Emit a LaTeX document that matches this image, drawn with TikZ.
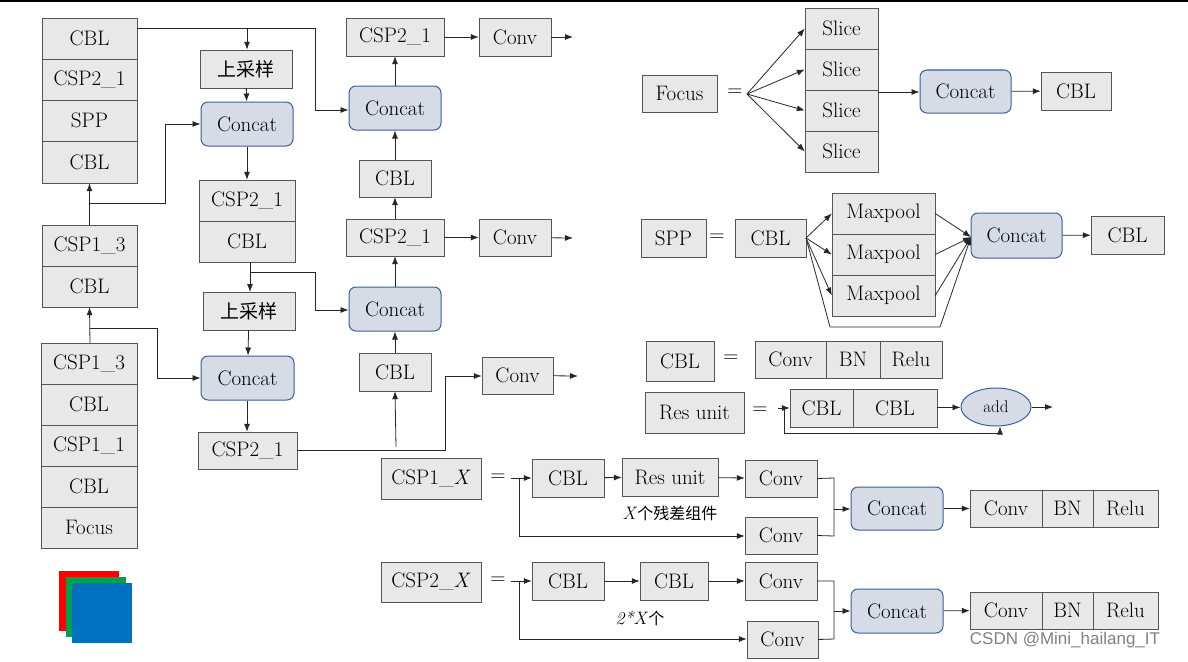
\documentclass[tikz,border=0pt]{standalone}
\usepackage{fontspec}
\newfontfamily\tms{Latin Modern Roman}
\newfontfamily\cjk{Noto Sans CJK SC}
\usetikzlibrary{arrows.meta,shapes.geometric}
\definecolor{bxf}{HTML}{E8E8E8}
\definecolor{bxd}{HTML}{555555}
\definecolor{ccf}{HTML}{D6DCE5}
\definecolor{ccd}{HTML}{3A5F9E}
\definecolor{sqb}{HTML}{0070C0}
\definecolor{sqg}{HTML}{00A050}
\tikzset{
 box/.style={draw=bxd,fill=bxf,inner sep=0pt,font=\tms\fontsize{21}{23}\selectfont},
 cc/.style={box,draw=ccd,fill=ccf,rounded corners=7pt,line width=1pt},
 ln/.style={draw=black!85,line width=0.8pt},
 ar/.style={ln,-{Latex[length=8pt,width=6pt]}},
 eq/.style={font=\tms\fontsize{21}{23}\selectfont}
}
\newcommand\bx[7][box]{\node[#1,minimum width={(#5-#3)*1pt},minimum height={(#6-#4)*1pt}] (#2) at ({(#3+#5)/2},{(#4+#6)/2}) {#7};}
\begin{document}
\begin{tikzpicture}[x=1pt,y=-1pt]
\useasboundingbox (0,0) rectangle (1188,661);
\draw[line width=1.2pt] (0,1) -- (1188,1);
% left stacks
\bx{a1}{42}{18}{137}{59}{CBL}
\bx{a2}{42}{59}{137}{100}{CSP2\_1}
\bx{a3}{42}{100}{137}{141}{SPP}
\bx{a4}{42}{141}{137}{183}{CBL}
\bx{b1}{42}{225}{137}{266}{CSP1\_3}
\bx{b2}{42}{266}{137}{307}{CBL}
\bx{c1}{41}{343}{137}{384}{CSP1\_3}
\bx{c2}{41}{384}{137}{425}{CBL}
\bx{c3}{41}{425}{137}{466}{CSP1\_1}
\bx{c4}{41}{466}{137}{507}{CBL}
\bx{c5}{41}{507}{137}{548}{Focus}
\fill[red] (59,571) rectangle (119,631);
\fill[sqg] (66,577) rectangle (126,637);
\fill[sqb] (72,583) rectangle (132,643);
% column 2
\bx{u1}{200}{50}{292}{88}{\cjk\fontsize{19}{21}\selectfont 上采样}
\bx[cc]{k1}{201}{102}{293}{146}{Concat}
\bx{d1}{199}{180}{295}{221}{CSP2\_1}
\bx{d2}{199}{221}{295}{262}{CBL}
\bx{u2}{203}{292}{295}{330}{\cjk\fontsize{19}{21}\selectfont 上采样}
\bx[cc]{k2}{201}{356}{294}{400}{Concat}
\bx{d3}{198}{432}{297}{469}{CSP2\_1}
% column 3
\bx{e1}{346}{18}{444}{56}{CSP2\_1}
\bx{o1}{479}{18}{551}{56}{Conv}
\bx[cc]{k3}{349}{86}{441}{130}{Concat}
\bx{e2}{359}{160}{431}{197}{CBL}
\bx{e3}{346}{219}{444}{256}{CSP2\_1}
\bx{o2}{479}{219}{551}{256}{Conv}
\bx[cc]{k4}{349}{287}{441}{331}{Concat}
\bx{e4}{359}{353}{431}{391}{CBL}
\bx{o3}{482}{357}{553}{394}{Conv}
\coordinate (t1) at (573,37);
\coordinate (t2) at (573,238);
\coordinate (t3) at (578,376);
% connectors left
\draw[ln] (a1.east|-0,28) -- (315,28) -- (315,110);
\draw[ar] (315,110) -- (k3.west|-0,110);
\draw[ar] (247,28) -- (u1.north-|247,0);
\draw[ar] (u1) -- (k1);
\draw[ar] (k1) -- (d1);
\draw[ar] (b1.north) -- (a4.south);
\draw[ln] (90,203) -- (165,203) -- (165,124);
\draw[ar] (165,124) -- (k1.west);
\draw[ar] (250,262) -- (250,292);
\draw[ln] (250,272) -- (315,272) -- (315,310);
\draw[ar] (315,310) -- (k4.west|-0,310);
\draw[ar] (u2) -- (k2);
\draw[ar] (k2.south-|247,0) -- (d3.north-|247,0);
\draw[ar] (c1.north-|90,0) -- (b2.south);
\draw[ln] (90,328) -- (157,328) -- (157,378);
\draw[ar] (157,378) -- (k2.west);
\draw[ln] (d3.east|-0,450) -- (445,450) -- (445,376);
\draw[ar] (445,376) -- (o3.west|-0,376);
\draw[ar] (396,447) -- (e4.south);
\draw[ar] (e4) -- (k4);
\draw[ar] (k4) -- (e3);
\draw[ar] (e3) -- (e2);
\draw[ar] (e2) -- (k3);
\draw[ar] (k3) -- (e1);
\draw[ar] (e1) -- (o1);
\draw[ar] (e3) -- (o2);
\draw[ar] (o1) -- (t1);
\draw[ar] (o2) -- (t2);
\draw[ar] (o3) -- (t3);
% Focus
\bx{f0}{642}{75}{717}{112}{Focus}
\node[eq] (fq) at (735,93) {=};
\coordinate (fp) at (747,94);
\bx{s1}{805}{8}{878}{49}{Slice}
\bx{s2}{805}{49}{878}{90}{Slice}
\bx{s3}{805}{90}{878}{131}{Slice}
\bx{s4}{805}{131}{878}{172}{Slice}
\bx[cc]{fk}{920}{70}{1011}{113}{Concat}
\bx{fc}{1041}{72}{1111}{110}{CBL}
\foreach \s in {s1,s2,s3,s4} \draw[ar] (fp) -- (\s.west);
\draw[ar] (s2.east|-0,92) -- (fk.west|-0,92);
\draw[ar] (fk) -- (fc);
% SPP
\bx{p0}{641}{219}{706}{257}{SPP}
\node[eq] (pq) at (717,238) {=};
\bx{pc}{735}{219}{806}{257}{CBL}
\bx{m1}{832}{193}{935}{234}{Maxpool}
\bx{m2}{832}{234}{935}{275}{Maxpool}
\bx{m3}{832}{275}{935}{316}{Maxpool}
\bx[cc]{pk}{971}{213}{1062}{258}{Concat}
\bx{pb}{1091}{216}{1164}{254}{CBL}
\coordinate (pj) at (806,238);
\coordinate (pk0) at (971,237);
\foreach \m in {m1,m2,m3} {\draw[ar] (pj) -- (\m.west); \draw[ar] (\m.east) -- (pk0);}
\draw[ln] (pj) -- (830,327) -- (940,327);
\draw[ar] (940,327) -- (pk0);
\draw[ar] (pk) -- (pb);
% CBL =
\bx{q0}{646}{341}{714}{381}{CBL}
\node[eq] (qq) at (731,359) {=};
\bx{q1}{755}{341}{826}{378}{Conv}
\bx{q2}{826}{341}{880}{378}{BN}
\bx{q3}{880}{341}{942}{378}{Relu}
% Res unit
\bx{r0}{645}{392}{744}{433}{Res unit}
\node[eq] (rq) at (760,411) {=};
\bx{r1}{790}{389}{853}{427}{CBL}
\bx{r2}{853}{389}{937}{427}{CBL}
\node[draw=ccd,fill=ccf,ellipse,line width=1pt,minimum width=70pt,minimum height=38pt,inner sep=0pt,font=\tms\fontsize{17}{19}\selectfont] (ad) at (996,407) {add};
\coordinate (rs) at (778,408);
\coordinate (ro) at (1053,407);
\draw[ar] (rs) -- (r1.west|-0,408);
\draw[ar] (r2) -- (ad);
\draw[ar] (ad) -- (ro);
\draw[ln] (784,408) -- (784,433) -- (1000,433);
\draw[ar] (1000,433) -- (ad.south-|1000,0);
% CSP1_X
\bx{x0}{381}{458}{481}{499}{CSP1\_\textit{X}}
\node[eq] (xq) at (498,478) {=};
\bx{x1}{532}{459}{604}{497}{CBL}
\bx{x2}{622}{458}{718}{496}{Res unit}
\bx{x3}{745}{460}{817}{497}{Conv}
\bx{x4}{745}{517}{817}{554}{Conv}
\bx[cc]{xk}{851}{487}{943}{530}{Concat}
\bx{x5}{970}{490}{1042}{527}{Conv}
\bx{x6}{1042}{490}{1093}{527}{BN}
\bx{x7}{1093}{490}{1158}{527}{Relu}
\node[font=\tms\fontsize{18}{20}\selectfont] (xl) at (670,513) {\textit{X}{\cjk\fontsize{16}{18}\selectfont 个残差组件}};
\coordinate (xs) at (511,478);
\draw[ar] (xs) -- (x1.west|-0,478);
\draw[ar] (x1) -- (x2);
\draw[ar] (x2) -- (x3);
\draw[ln] (519,478) -- (519,536);
\draw[ar] (519,536) -- (x4.west|-0,536);
\draw[ln] (x3.east) -- (834,478) -- (834,536) -- (x4.east);
\draw[ar] (834,509) -- (xk.west|-0,509);
\draw[ar] (xk) -- (x5);
% CSP2_X
\bx{y0}{381}{562}{481}{602}{CSP2\_\textit{X}}
\node[eq] (yq) at (498,581) {=};
\bx{y1}{532}{562}{604}{600}{CBL}
\bx{y2}{640}{562}{708}{600}{CBL}
\bx{y3}{745}{562}{817}{600}{Conv}
\bx{y4}{747}{621}{818}{658}{Conv}
\bx[cc]{yk}{851}{589}{943}{633}{Concat}
\bx{y5}{970}{592}{1042}{629}{Conv}
\bx{y6}{1042}{592}{1093}{629}{BN}
\bx{y7}{1093}{592}{1158}{629}{Relu}
\node[font=\tms\fontsize{18}{20}\selectfont] (yl) at (640,618) {\textit{2*X}{\cjk\fontsize{16}{18}\selectfont 个}};
\coordinate (ys) at (511,581);
\draw[ar] (ys) -- (y1.west|-0,581);
\draw[ar] (y1) -- (y2);
\draw[ar] (y2) -- (y3);
\draw[ln] (519,581) -- (519,639);
\draw[ar] (519,639) -- (y4.west|-0,639);
\draw[ln] (y3.east) -- (834,581) -- (834,639) -- (y4.east);
\draw[ar] (834,611) -- (yk.west|-0,611);
\draw[ar] (yk) -- (y5);
\node[text=black!50,font=\fontspec{Liberation Sans}\fontsize{17}{19}\selectfont] (wm) at (1065,640) {CSDN @Mini\_hailang\_IT};
\end{tikzpicture}
\end{document}
